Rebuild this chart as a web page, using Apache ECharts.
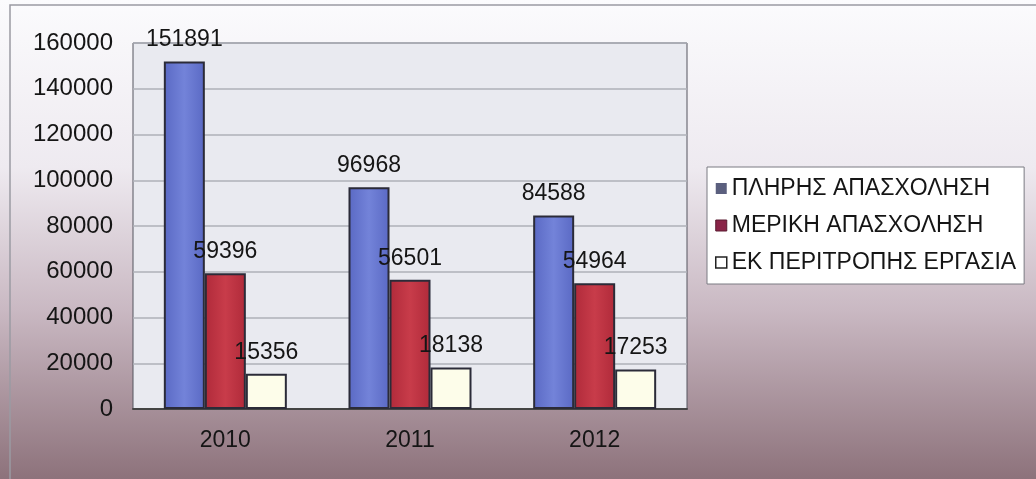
<!DOCTYPE html>
<html>
<head>
<meta charset="utf-8">
<script src="https://cdn.jsdelivr.net/npm/echarts@6/dist/echarts.min.js"></script>
<style>
  html, body { margin: 0; padding: 0; }
  #chart {
    width: 1036px; height: 479px;
    background: linear-gradient(to bottom, #fbfbfd 0%, #eeeaf0 35%, #c9b8c2 65%, #8d727b 100%);
  }
</style>
</head>
<body>
<div id="chart"></div>
<script>
// κατηγορίες και τιμές
const years = ['2010', '2011', '2012'];
const fullTime = [151891, 96968, 84588];
const partTime = [59396, 56501, 54964];
const rotation = [15356, 18138, 17253];
const seriesNames = ['ΠΛΗΡΗΣ ΑΠΑΣΧΟΛΗΣΗ', 'ΜΕΡΙΚΗ ΑΠΑΣΧΟΛΗΣΗ', 'ΕΚ ΠΕΡΙΤΡΟΠΗΣ ΕΡΓΑΣΙΑ'];
const yTicks = [0, 20000, 40000, 60000, 80000, 100000, 120000, 140000, 160000];

const font = 'Arial, "Liberation Sans", sans-serif';

const hGrad = (a, b) => ({
    type: 'linear', x: 0, y: 0, x2: 1, y2: 0,
    colorStops: [{ offset: 0, color: a }, { offset: 0.5, color: b }, { offset: 1, color: a }]
});

const barLabel = {
    show: true,
    position: 'top',
    distance: 10,
    color: '#151515',
    fontFamily: font,
    fontSize: 23
};

const makeSeries = (name, data, fill) => ({
    name: name,
    type: 'bar',
    data: data,
    barWidth: 41,
    barGap: '0%',
    itemStyle: { color: fill, borderColor: '#2b2b38', borderWidth: 2 },
    label: barLabel
});

const chart = echarts.init(document.getElementById('chart'));
chart.setOption({
    animation: false,
    graphic: [{
        type: 'rect',
        shape: { x: 10, y: 5, width: 1030, height: 480 },
        style: { fill: 'none', stroke: '#9a9aa2', lineWidth: 1.5 }
    }],
    grid: {
        left: 133, top: 43, width: 554, height: 366,
        show: true,
        backgroundColor: '#e9eaf0',
        borderColor: '#55555f',
        borderWidth: 1
    },
    legend: {
        orient: 'vertical',
        left: 707, top: 167,
        padding: [10, 8, 10, 8],
        backgroundColor: '#ffffff',
        borderColor: '#7a7a82',
        borderWidth: 1,
        icon: 'rect',
        itemWidth: 11, itemHeight: 11,
        itemGap: 14,
        textStyle: { fontFamily: font, fontSize: 23, color: '#151515' },
        data: [
            { name: seriesNames[0], itemStyle: { color: '#5b5f7e', borderWidth: 0 } },
            { name: seriesNames[1], itemStyle: { color: '#8a2448', borderColor: '#5a1a30', borderWidth: 1 } },
            { name: seriesNames[2], itemStyle: { color: '#ffffff', borderColor: '#222', borderWidth: 1.5 } }
        ]
    },
    xAxis: {
        type: 'category',
        data: years,
        axisLine: { lineStyle: { color: '#444', width: 2 } },
        axisTick: { show: false },
        axisLabel: { margin: 20, color: '#151515', fontFamily: font, fontSize: 23 }
    },
    yAxis: {
        type: 'value',
        min: yTicks[0],
        max: yTicks[yTicks.length - 1],
        interval: yTicks[1] - yTicks[0],
        axisLine: { show: false },
        axisTick: { show: false },
        splitLine: { lineStyle: { color: '#aeb0b8', width: 1.5 } },
        axisLabel: {
            margin: 20, color: '#151515', fontFamily: font, fontSize: 24,
            formatter: v => String(v)
        }
    },
    series: [
        makeSeries(seriesNames[0], fullTime, hGrad('#5a69c4', '#7383d9')),
        makeSeries(seriesNames[1], partTime, hGrad('#b02a3a', '#c83c4a')),
        makeSeries(seriesNames[2], rotation, '#fdfdea')
    ]
});
</script>
</body>
</html>
